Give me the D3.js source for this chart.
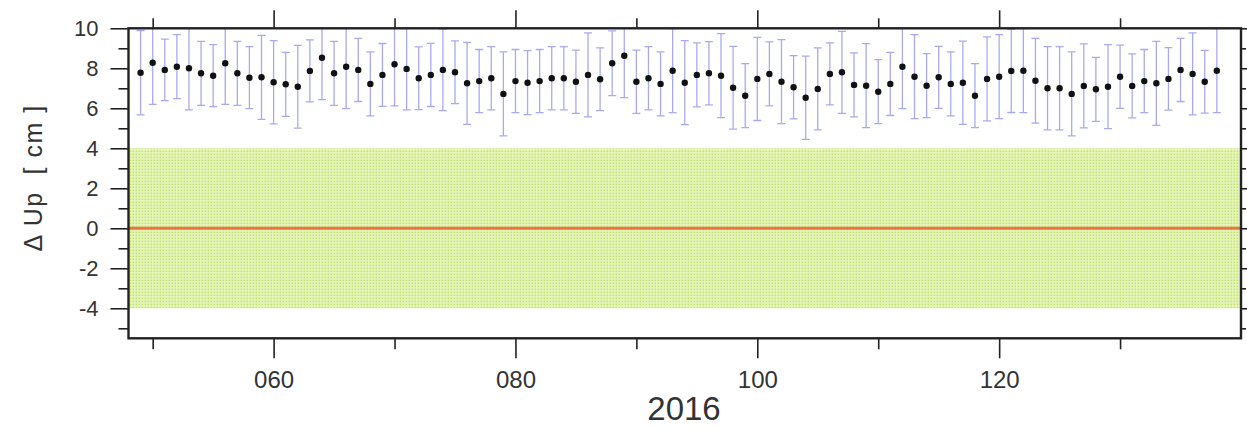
<!DOCTYPE html>
<html><head><meta charset="utf-8">
<script src="https://cdn.jsdelivr.net/npm/d3@7/dist/d3.min.js"></script>
<style>html,body{margin:0;padding:0;background:#fff;}svg{display:block;}</style>
</head><body>
<script>
const days = [49,50,51,52,53,54,55,56,57,58,59,60,61,62,63,64,65,66,67,68,69,70,71,72,73,74,75,76,77,78,79,80,81,82,83,84,85,86,87,88,89,90,91,92,93,94,95,96,97,98,99,100,101,102,103,104,105,106,107,108,109,110,111,112,113,114,115,116,117,118,119,120,121,122,123,124,125,126,127,128,129,130,131,132,133,134,135,136,137,138];
const upValues = [7.78,8.28,7.92,8.08,8.0,7.75,7.63,8.25,7.75,7.53,7.55,7.3,7.2,7.08,7.87,8.53,7.75,8.08,7.92,7.22,7.67,8.2,7.97,7.5,7.67,7.92,7.8,7.25,7.36,7.5,6.72,7.36,7.28,7.36,7.5,7.5,7.33,7.67,7.45,8.25,8.63,7.33,7.5,7.22,7.88,7.28,7.67,7.75,7.63,7.03,6.63,7.47,7.72,7.33,7.05,6.53,6.97,7.72,7.8,7.17,7.13,6.83,7.22,8.08,7.58,7.13,7.55,7.22,7.28,6.63,7.47,7.58,7.87,7.88,7.38,7.0,7.0,6.72,7.12,6.95,7.08,7.58,7.12,7.36,7.25,7.47,7.92,7.72,7.33,7.88];
const upErrors = [2.11,2.08,1.54,1.6,2.08,1.6,1.55,2.05,1.6,1.55,2.1,2.08,1.6,2.07,1.55,2.1,1.6,2.1,1.58,1.6,1.57,2.08,2.05,1.57,1.58,2.04,1.57,2.05,1.58,1.58,2.1,1.58,1.6,1.58,1.58,1.58,1.58,2.1,1.57,1.62,2.1,1.58,1.58,1.6,2.1,2.1,1.6,1.58,2.1,2.07,1.6,2.08,1.6,2.1,1.58,2.08,2.05,1.55,2.05,1.6,2.1,1.6,1.58,2.1,2.1,1.6,1.55,1.6,2.08,1.6,2.1,2.1,2.08,2.1,2.12,2.08,2.08,2.1,2.1,1.6,2.1,1.58,1.6,1.58,2.1,1.56,1.58,2.05,1.57,2.1];
const bandLimits = [-4, 4];
const referenceLine = [0];
const xMajorTicks = [60, 80, 100, 120];
const xMinorTicks = [50, 70, 90, 110, 130];
const xTickLabels = ["060", "080", "100", "120"];
const yMajorTicks = [-4, -2, 0, 2, 4, 6, 8, 10];
const yMinorTicks = [-5, -3, -1, 1, 3, 5, 7, 9];
const yTickLabels = ["-4", "-2", "0", "2", "4", "6", "8", "10"];
const xTitle = "2016";
const yTitle = "\u0394 Up  [ cm ]";

const W = 1247, H = 428;
const L = 128.5, R = 1241, T = 28.3, B = 338.3;
const FONT = "Liberation Sans, Arial, Helvetica, sans-serif";
const x = d3.scaleLinear().domain([48, 140]).range([L, R]);
const y = d3.scaleLinear().domain([-5.5, 10]).range([B, T]);

const svg = d3.select("body").append("svg").attr("width", W).attr("height", H);
const defs = svg.append("defs");
const pat = defs.append("pattern").attr("id", "dots").attr("patternUnits", "userSpaceOnUse")
  .attr("width", 3).attr("height", 3);
pat.append("rect").attr("width", 3).attr("height", 3).attr("fill", "#e6f6bd");
pat.append("rect").attr("x", 0.6).attr("y", 0.6).attr("width", 1.5).attr("height", 1.5).attr("fill", "#c2e06a");
defs.append("clipPath").attr("id", "clip").append("rect")
  .attr("x", L).attr("y", T).attr("width", R - L).attr("height", B - T);

const plot = svg.append("g").attr("clip-path", "url(#clip)");
plot.append("rect").attr("x", L).attr("y", y(bandLimits[1]))
  .attr("width", R - L).attr("height", y(bandLimits[0]) - y(bandLimits[1]))
  .attr("fill", "url(#dots)");
plot.selectAll("line.ref").data(referenceLine).join("line").attr("class", "ref")
  .attr("x1", L).attr("x2", R).attr("y1", d => y(d)).attr("y2", d => y(d))
  .attr("stroke", "#ea7545").attr("stroke-width", 3);

const pts = days.map((d, i) => ({d, v: upValues[i], e: upErrors[i]}));
const eb = plot.append("g").attr("stroke", "#a9a9f2").attr("stroke-width", 1.3);
eb.selectAll("line.v").data(pts).join("line").attr("class", "v")
  .attr("x1", p => x(p.d)).attr("x2", p => x(p.d))
  .attr("y1", p => y(p.v + p.e)).attr("y2", p => y(p.v - p.e));
eb.selectAll("line.t").data(pts).join("line").attr("class", "t")
  .attr("x1", p => x(p.d) - 4).attr("x2", p => x(p.d) + 4)
  .attr("y1", p => y(p.v + p.e)).attr("y2", p => y(p.v + p.e));
eb.selectAll("line.b").data(pts).join("line").attr("class", "b")
  .attr("x1", p => x(p.d) - 4).attr("x2", p => x(p.d) + 4)
  .attr("y1", p => y(p.v - p.e)).attr("y2", p => y(p.v - p.e));
plot.append("g").selectAll("circle").data(pts).join("circle")
  .attr("cx", p => x(p.d)).attr("cy", p => y(p.v)).attr("r", 3.2).attr("fill", "#111");

// axes
const axCol = "#222";
function styleAxis(g, fs) {
  g.attr("font-size", fs || 21).attr("font-family", FONT);
  g.select(".domain").remove();
  g.selectAll(".tick line").attr("stroke", axCol).attr("stroke-width", 1.6);
  g.selectAll(".tick text").attr("fill", "#333").attr("font-family", FONT).attr("font-size", fs || 21);
}
svg.append("g").attr("transform", `translate(0,${B})`)
  .call(d3.axisBottom(x).tickValues(xMajorTicks).tickSize(20).tickPadding(13).tickFormat((d, i) => xTickLabels[i]))
  .call(g => styleAxis(g, 24));
svg.append("g").attr("transform", `translate(0,${B})`)
  .call(d3.axisBottom(x).tickValues(xMinorTicks).tickSize(11).tickFormat(""))
  .call(g => styleAxis(g));
svg.append("g").attr("transform", `translate(0,${T})`)
  .call(d3.axisTop(x).tickValues(xMajorTicks).tickSize(18).tickFormat(""))
  .call(g => styleAxis(g));
svg.append("g").attr("transform", `translate(0,${T})`)
  .call(d3.axisTop(x).tickValues(xMinorTicks).tickSize(10).tickFormat(""))
  .call(g => styleAxis(g));
svg.append("g").attr("transform", `translate(${L},0)`)
  .call(d3.axisLeft(y).tickValues(yMajorTicks).tickSize(18).tickPadding(12).tickFormat((d, i) => yTickLabels[i]))
  .call(g => styleAxis(g, 22));
svg.append("g").attr("transform", `translate(${L},0)`)
  .call(d3.axisLeft(y).tickValues(yMinorTicks).tickSize(10).tickFormat(""))
  .call(g => styleAxis(g));
svg.append("g").attr("transform", `translate(${R},0)`)
  .call(d3.axisRight(y).tickValues(yMajorTicks).tickSize(8).tickFormat(""))
  .call(g => styleAxis(g));
svg.append("g").attr("transform", `translate(${R},0)`)
  .call(d3.axisRight(y).tickValues(yMinorTicks).tickSize(5).tickFormat(""))
  .call(g => styleAxis(g));

svg.append("rect").attr("x", L).attr("y", T).attr("width", R - L).attr("height", B - T)
  .attr("fill", "none").attr("stroke", axCol).attr("stroke-width", 2.4);

svg.append("text").attr("x", 684).attr("y", 420).attr("text-anchor", "middle")
  .attr("font-family", FONT).attr("font-size", 33).attr("fill", "#333")
  .text(xTitle);
svg.append("text").attr("transform", `translate(42,178) rotate(-90)`)
  .attr("text-anchor", "middle").attr("font-family", FONT)
  .attr("font-size", 25).attr("letter-spacing", 1.5).attr("fill", "#333").style("white-space", "pre")
  .text(yTitle);
</script>
</body></html>
